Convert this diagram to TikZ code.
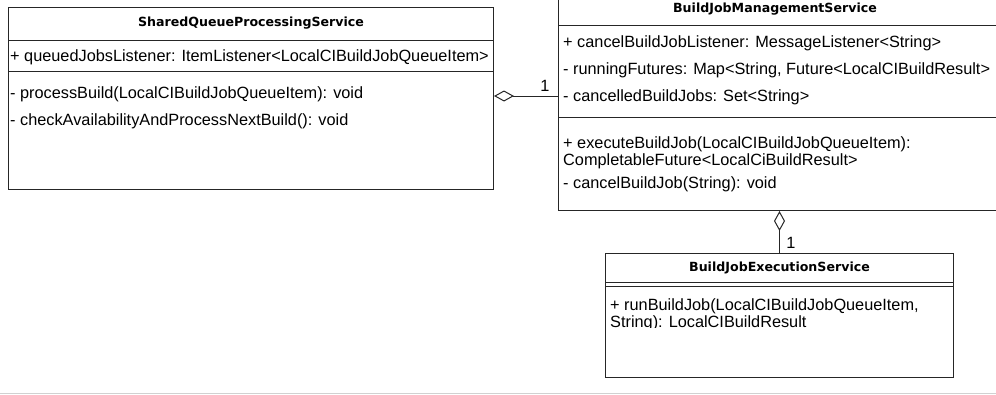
\documentclass[tikz,border=0pt]{standalone}
\usepackage{fontspec}
\setmainfont{Liberation Sans}
\newfontfamily\headfont{DejaVu Sans}
\usetikzlibrary{arrows.meta}

\tikzset{
  umlbox/.style={draw=black!85, line width=1pt, inner sep=0pt, anchor=north west, fill=white},
  rule/.style={draw=black!85, line width=1pt},
  classname/.style={inner sep=0pt, font=\headfont\bfseries\fontsize{12.6}{15}\selectfont},
  member/.style={inner sep=0pt, anchor=west, font=\fontsize{16.3}{19}\selectfont},
  mult/.style={inner sep=0pt, font=\fontsize{16.3}{19}\selectfont},
  aggregation/.style={draw=black!85, line width=1pt,
    {Diamond[open, length=20pt, width=11pt, line width=1pt]}-},
}

\begin{document}
\begin{tikzpicture}[x=1pt, y=-1pt]
\useasboundingbox (0,0) rectangle (996,394);
\clip (0,0) rectangle (996,394);

% ---- SharedQueueProcessingService ----
\node[umlbox, minimum width=485pt, minimum height=182pt] (sq) at (8,7) {};
\draw[rule] (sq.west |- 0,40) -- (sq.east |- 0,40);
\draw[rule] (sq.west |- 0,71) -- (sq.east |- 0,71);
\node[classname] (sq-name) at (sq.north |- 0,23) {SharedQueueProcessingService};
\node[member] (sq-a1) at (10,57) {+ queuedJobsListener: ItemListener<LocalCIBuildJobQueueItem>};
\node[member] (sq-m1) at (10,94) {- processBuild(LocalCIBuildJobQueueItem): void};
\node[member] (sq-m2) at (10,121) {- checkAvailabilityAndProcessNextBuild(): void};

% ---- BuildJobManagementService ----
\node[umlbox, minimum width=446pt, minimum height=213pt] (bjm) at (558,-3) {};
\draw[rule] (bjm.west |- 0,25) -- (bjm.east |- 0,25);
\draw[rule] (bjm.west |- 0,117) -- (bjm.east |- 0,117);
\node[classname] (bjm-name) at (775,9) {BuildJobManagementService};
\node[member] (bjm-a1) at (563,43) {+ cancelBuildJobListener: MessageListener<String>};
\node[member] (bjm-a2) at (563,70) {- runningFutures: Map<String, Future<LocalCIBuildResult>};
\node[member] (bjm-a3) at (563,97) {- cancelledBuildJobs: Set<String>};
\node[member] (bjm-m1) at (563,144) {+ executeBuildJob(LocalCIBuildJobQueueItem):};
\node[member] (bjm-m1b) at (563,161) {CompletableFuture<LocalCiBuildResult>};
\node[member] (bjm-m2) at (563,184) {- cancelBuildJob(String): void};

% ---- BuildJobExecutionService ----
\node[umlbox, minimum width=348pt, minimum height=124pt] (bje) at (605,253) {};
\draw[rule] (bje.west |- 0,282) -- (bje.east |- 0,282);
\draw[rule] (bje.west |- 0,286) -- (bje.east |- 0,286);
\node[classname] (bje-name) at (bje.north |- 0,268) {BuildJobExecutionService};
\node[member] (bje-m1) at (610,306) {+ runBuildJob(LocalCIBuildJobQueueItem,};
\begin{scope}
  \clip (606,312) rectangle (952,327.8);
  \node[member] (bje-m1b) at (610,323) {String): LocalCIBuildResult};
\end{scope}

% ---- aggregations ----
\draw[aggregation] (sq.east |- 0,96) -- (bjm.west |- 0,96);
\node[mult] (m-left) at (545,86) {1};
\draw[aggregation] (bje.north |- bjm.south) -- (bje.north);
\node[mult] (m-down) at (791,243) {1};

% ---- bottom edge ----
\draw[black!18, line width=1pt] (0,393.5) -- (996,393.5);
\end{tikzpicture}
\end{document}
